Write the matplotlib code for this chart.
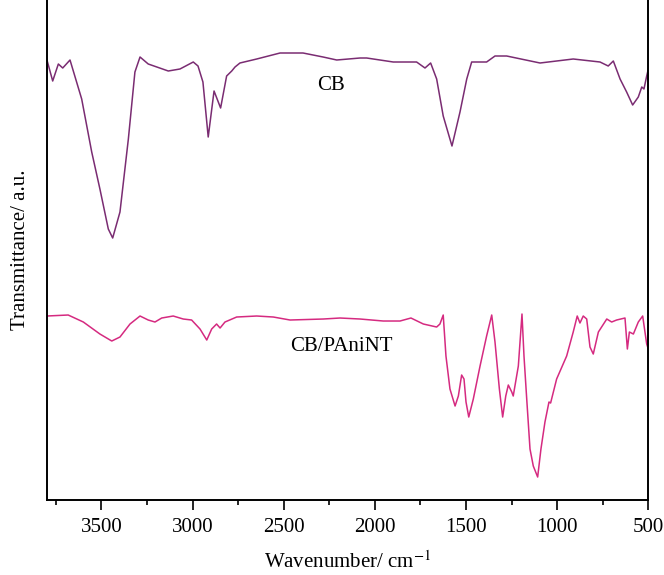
import numpy as np
import matplotlib.pyplot as plt

plt.rcParams['font.family'] = ['Liberation Serif', 'DejaVu Serif']
plt.rcParams['mathtext.fontset'] = 'stix'

# FTIR spectra (wavenumber in cm-1, transmittance in a.u.)
cb_wn = [3800, 3767, 3736, 3712, 3672, 3608, 3553, 3508, 3462, 3438, 3398, 3352,
         3316, 3288, 3243, 3133, 3069, 2996, 2970, 2943, 2914, 2882, 2846, 2813,
         2785, 2767, 2740, 2648, 2520, 2394, 2284, 2209, 2081, 2045, 1899, 1771,
         1725, 1694, 1661, 1625, 1577, 1533, 1496, 1469, 1423, 1387, 1341, 1277,
         1094, 912, 765, 720, 692, 655, 619, 586, 555, 536, 524, 509, 500]
cb_t = [441, 419, 436, 432, 440, 401, 348, 311, 271, 262, 288, 361,
        428, 443, 436, 429, 431, 438, 434, 418, 363, 409, 392, 424,
        429, 433, 437, 441, 447, 447, 443, 440, 442, 442, 438, 438,
        432, 437, 421, 384, 354, 388, 421, 438, 438, 438, 444, 444,
        437, 441, 438, 434, 439, 421, 408, 395, 403, 413, 411, 424, 431]

pani_wn = [3800, 3682, 3599, 3508, 3443, 3398, 3343, 3288, 3243, 3206, 3169, 3106,
           3051, 3005, 2959, 2922, 2895, 2868, 2849, 2822, 2758, 2648, 2557, 2465,
           2283, 2191, 2081, 1954, 1862, 1802, 1734, 1661, 1643, 1625, 1610, 1588,
           1560, 1542, 1524, 1511, 1500, 1485, 1460, 1423, 1387, 1359, 1341, 1317,
           1299, 1282, 1268, 1249, 1241, 1213, 1193, 1182, 1167, 1149, 1131, 1107,
           1089, 1067, 1045, 1036, 1003, 948, 912, 890, 875, 857, 838, 820,
           802, 774, 728, 701, 674, 628, 615, 604, 582, 555, 531, 509, 500]
pani_t = [184, 185, 178, 166, 159, 163, 176, 184, 180, 178, 182, 184,
          181, 180, 171, 160, 171, 176, 172, 178, 183, 184, 183, 180,
          181, 182, 181, 179, 179, 182, 176, 173, 176, 185, 144, 111,
          94, 104, 125, 121, 98, 83, 101, 134, 164, 185, 158, 111,
          83, 104, 115, 108, 104, 134, 186, 144, 101, 51, 34, 23,
          51, 78, 98, 97, 121, 144, 168, 184, 177, 184, 181, 153,
          146, 168, 181, 178, 180, 182, 151, 168, 166, 178, 184, 156, 151]

fig = plt.figure(figsize=(6.64, 5.75), dpi=100)
ax = fig.add_axes([0.0703, 0.1304, 0.9061, 0.8696])

ax.plot(cb_wn, cb_t, color='#7a2c72', lw=1.1)
ax.plot(pani_wn, pani_t, color='#d52a80', lw=1.1)

ax.text(2240, 415, 'CB', fontsize=15, ha='center', va='center')
ax.text(2186, 154, 'CB/PAniNT', fontsize=15, ha='center', va='center')

ax.set_xlim(3800, 500)
ax.set_ylim(0, 500)
ax.set_xticks([3500, 3000, 2500, 2000, 1500, 1000, 500])
ax.set_xticks(np.arange(3750, 500, -500), minor=True)
ax.set_yticks([])
ax.tick_params(axis='x', which='major', length=7, width=1.2, labelsize=15, pad=6)
ax.tick_params(axis='x', which='minor', length=3.5, width=1.2)
ax.spines['top'].set_visible(False)
for s in ['left', 'right', 'bottom']:
    ax.spines[s].set_linewidth(1.4)

ax.set_xlabel('Wavenumber/ cm$^{\\mathrm{-1}}$', fontsize=15, labelpad=10)
ax.set_ylabel('Transmittance/ a.u.', fontsize=15, labelpad=12)

fig.savefig('out.png', dpi=100)
